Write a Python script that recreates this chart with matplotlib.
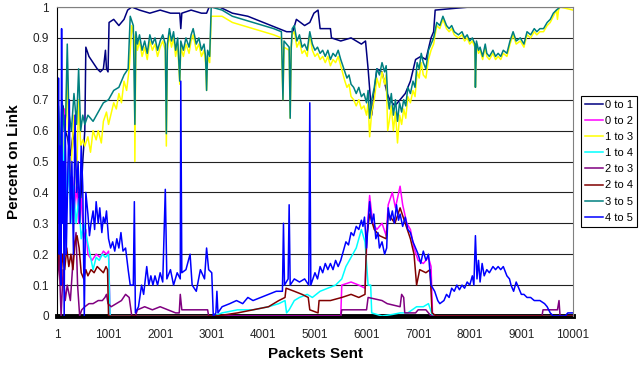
import matplotlib
matplotlib.use("Agg")
import matplotlib.pyplot as plt

plt.rcParams["font.family"] = ["Liberation Sans", "DejaVu Sans"]

# (packets sent, share of link), one list per link
link_0_1 = [(1, 0.77), (40, 0.62), (80, 0.55), (120, 0.68), (160, 0.6), (200, 0.58), (260, 0.52),
            (320, 0.6), (380, 0.45), (440, 0.3), (500, 0.5), (540, 0.6), (560, 0.87), (620, 0.84),
            (700, 0.82), (780, 0.8), (840, 0.79), (900, 0.8), (940, 0.86), (960, 0.8), (990, 0.79),
            (1010, 0.95), (1100, 0.96), (1200, 0.94), (1300, 0.96), (1370, 0.99), (1450, 1.0),
            (1600, 0.99), (1800, 0.98), (2000, 0.99), (2200, 0.98), (2380, 0.98), (2400, 0.93),
            (2420, 0.98), (2600, 0.99), (2800, 0.98), (2900, 0.98), (2950, 1.0), (3150, 1.0),
            (3400, 0.98), (3700, 0.97), (4000, 0.95), (4300, 0.93), (4450, 0.92), (4570, 0.92),
            (4640, 0.96), (4800, 0.94), (4900, 0.95), (4980, 0.98), (5060, 0.99), (5100, 0.93),
            (5300, 0.93), (5320, 0.9), (5500, 0.89), (5700, 0.9), (5900, 0.88), (5980, 0.89),
            (6030, 0.8), (6100, 0.65), (6200, 0.8), (6300, 0.79), (6400, 0.72), (6450, 0.7),
            (6550, 0.68), (6650, 0.7), (6750, 0.72), (6850, 0.76), (6950, 0.83), (7050, 0.84),
            (7150, 0.83), (7250, 0.9), (7300, 0.92), (7330, 0.99), (8000, 1.0), (9000, 1.0),
            (10001, 1.0)]

link_0_2 = [(1, 0.45), (30, 0.6), (60, 0.35), (90, 0.55), (120, 0.3), (150, 0.67), (180, 0.4),
            (220, 0.5), (260, 0.38), (300, 0.45), (340, 0.35), (380, 0.42), (420, 0.3), (470, 0.38),
            (520, 0.25), (560, 0.28), (600, 0.2), (680, 0.18), (760, 0.2), (840, 0.19), (900, 0.21),
            (960, 0.2), (1000, 0.21), (1030, 0.0), (5500, 0.0), (5520, 0.1), (5700, 0.11),
            (5850, 0.1), (5970, 0.09), (6020, 0.3), (6060, 0.39), (6120, 0.3), (6200, 0.28),
            (6300, 0.3), (6380, 0.26), (6420, 0.36), (6500, 0.4), (6560, 0.35), (6650, 0.42),
            (6700, 0.36), (6780, 0.3), (6850, 0.28), (6920, 0.22), (7000, 0.18), (7100, 0.17),
            (7200, 0.19), (7250, 0.16), (7280, 0.0), (10001, 0.0)]

link_1_3 = [(1, 0.5), (30, 0.35), (60, 0.6), (90, 0.3), (130, 0.55), (170, 0.62), (200, 0.8),
            (240, 0.45), (280, 0.5), (330, 0.65), (380, 0.42), (420, 0.7), (460, 0.55), (500, 0.57),
            (540, 0.55), (600, 0.58), (650, 0.53), (700, 0.6), (760, 0.57), (800, 0.6), (860, 0.56),
            (900, 0.63), (960, 0.66), (1000, 0.62), (1100, 0.69), (1150, 0.67), (1200, 0.72),
            (1250, 0.69), (1300, 0.76), (1350, 0.73), (1400, 0.8), (1450, 0.94), (1500, 0.9),
            (1510, 0.5), (1530, 0.9), (1560, 0.86), (1600, 0.89), (1650, 0.84), (1700, 0.87),
            (1750, 0.83), (1800, 0.89), (1850, 0.86), (1900, 0.88), (1950, 0.84), (2000, 0.87),
            (2050, 0.89), (2100, 0.86), (2120, 0.55), (2140, 0.86), (2180, 0.91), (2220, 0.87),
            (2260, 0.9), (2300, 0.84), (2340, 0.88), (2380, 0.75), (2400, 0.87), (2450, 0.84),
            (2500, 0.88), (2560, 0.85), (2600, 0.89), (2640, 0.91), (2700, 0.86), (2750, 0.88),
            (2800, 0.84), (2850, 0.86), (2880, 0.82), (2900, 0.73), (2920, 0.84), (2960, 0.82),
            (2990, 0.97), (3200, 0.97), (3400, 0.95), (3600, 0.94), (3800, 0.93), (4000, 0.92),
            (4200, 0.91), (4350, 0.9), (4380, 0.7), (4400, 0.87), (4500, 0.86), (4520, 0.64),
            (4540, 0.86), (4560, 0.91), (4600, 0.92), (4650, 0.87), (4700, 0.89), (4750, 0.85),
            (4800, 0.86), (4850, 0.84), (4900, 0.91), (4950, 0.86), (5000, 0.84), (5050, 0.85),
            (5100, 0.83), (5150, 0.84), (5200, 0.82), (5250, 0.84), (5300, 0.81), (5350, 0.83),
            (5400, 0.82), (5450, 0.84), (5500, 0.81), (5580, 0.76), (5620, 0.74), (5660, 0.75),
            (5700, 0.71), (5750, 0.7), (5800, 0.68), (5850, 0.7), (5900, 0.67), (5950, 0.68),
            (6000, 0.65), (6030, 0.69), (6060, 0.58), (6100, 0.66), (6150, 0.7), (6200, 0.77),
            (6250, 0.74), (6300, 0.79), (6350, 0.75), (6380, 0.78), (6410, 0.6), (6440, 0.63),
            (6480, 0.68), (6520, 0.6), (6560, 0.66), (6600, 0.56), (6640, 0.65), (6680, 0.62),
            (6720, 0.67), (6760, 0.64), (6800, 0.71), (6850, 0.69), (6900, 0.73), (6940, 0.71),
            (6980, 0.79), (7020, 0.77), (7060, 0.82), (7100, 0.78), (7150, 0.77), (7200, 0.83),
            (7250, 0.86), (7300, 0.88), (7360, 0.94), (7420, 0.93), (7480, 0.96), (7550, 0.93),
            (7600, 0.92), (7650, 0.93), (7700, 0.91), (7780, 0.9), (7850, 0.91), (7900, 0.89),
            (7950, 0.9), (8000, 0.88), (8050, 0.89), (8100, 0.87), (8110, 0.74), (8130, 0.88),
            (8170, 0.85), (8200, 0.86), (8250, 0.83), (8300, 0.87), (8330, 0.84), (8380, 0.83),
            (8450, 0.85), (8500, 0.83), (8550, 0.84), (8600, 0.83), (8650, 0.85), (8720, 0.84),
            (8780, 0.88), (8840, 0.91), (8900, 0.88), (8980, 0.89), (9050, 0.87), (9110, 0.91),
            (9180, 0.9), (9250, 0.92), (9300, 0.91), (9360, 0.92), (9430, 0.92), (9500, 0.94),
            (9560, 0.95), (9620, 0.97), (9680, 0.99), (9700, 0.96), (9720, 0.99), (9750, 1.0),
            (10001, 0.99)]

link_1_4 = [(1, 0.3), (30, 0.55), (60, 0.25), (90, 0.67), (120, 0.4), (150, 0.6), (190, 0.35),
            (230, 0.5), (270, 0.3), (320, 0.42), (370, 0.3), (420, 0.38), (470, 0.25), (520, 0.3),
            (580, 0.25), (640, 0.2), (700, 0.15), (760, 0.19), (820, 0.18), (880, 0.2), (940, 0.19),
            (1000, 0.2), (1030, 0.0), (3050, 0.0), (3200, 0.01), (3500, 0.02), (3800, 0.02),
            (4100, 0.03), (4300, 0.04), (4420, 0.05), (4450, 0.01), (4500, 0.02), (4600, 0.05),
            (4700, 0.06), (4850, 0.07), (4950, 0.06), (5100, 0.08), (5250, 0.09), (5400, 0.1),
            (5520, 0.12), (5600, 0.16), (5700, 0.19), (5800, 0.22), (5900, 0.28), (5970, 0.24),
            (6030, 0.1), (6080, 0.1), (6100, 0.01), (6300, 0.0), (6500, 0.005), (6650, 0.01),
            (6800, 0.01), (6970, 0.03), (7100, 0.03), (7200, 0.04), (7280, 0.0), (10001, 0.0)]

link_2_3 = [(1, 0.1), (40, 0.2), (80, 0.0), (120, 0.15), (160, 0.05), (200, 0.1), (260, 0.05),
            (320, 0.2), (370, 0.27), (400, 0.1), (440, 0.0), (480, 0.02), (540, 0.03), (620, 0.04),
            (700, 0.04), (800, 0.05), (880, 0.05), (930, 0.06), (960, 0.07), (990, 0.04),
            (1050, 0.03), (1150, 0.04), (1250, 0.05), (1330, 0.07), (1400, 0.06), (1450, 0.0),
            (1520, 0.0), (1560, 0.02), (1700, 0.03), (1850, 0.02), (2000, 0.03), (2150, 0.02),
            (2300, 0.01), (2370, 0.01), (2390, 0.07), (2420, 0.02), (2600, 0.02), (2800, 0.02),
            (2920, 0.02), (2940, 0.0), (5500, 0.0), (5520, 0.02), (6000, 0.02), (6030, 0.06),
            (6300, 0.05), (6400, 0.04), (6650, 0.03), (6680, 0.07), (6720, 0.06), (6740, 0.01),
            (6950, 0.01), (7000, 0.02), (7150, 0.02), (7250, 0.0), (9400, 0.0), (9420, 0.02),
            (9700, 0.02), (9730, 0.05), (9750, 0.0), (10001, 0.0)]

link_2_4 = [(1, 0.1), (20, 0.2), (50, 0.25), (80, 0.12), (110, 0.2), (150, 0.15), (190, 0.22),
            (230, 0.16), (270, 0.2), (310, 0.15), (350, 0.24), (390, 0.26), (430, 0.22),
            (470, 0.14), (520, 0.12), (560, 0.15), (600, 0.13), (660, 0.15), (720, 0.14),
            (780, 0.16), (840, 0.15), (900, 0.14), (950, 0.16), (980, 0.15), (1000, 0.0),
            (3050, 0.0), (3300, 0.005), (3500, 0.01), (3800, 0.02), (4100, 0.03), (4300, 0.05),
            (4420, 0.06), (4440, 0.09), (4600, 0.08), (4750, 0.07), (4870, 0.06), (4900, 0.02),
            (5060, 0.01), (5080, 0.05), (5300, 0.05), (5520, 0.06), (5700, 0.07), (5850, 0.06),
            (5970, 0.07), (6000, 0.25), (6060, 0.33), (6150, 0.28), (6250, 0.26), (6380, 0.25),
            (6420, 0.33), (6550, 0.3), (6650, 0.35), (6750, 0.3), (6850, 0.25), (6920, 0.2),
            (6970, 0.1), (7030, 0.15), (7150, 0.14), (7230, 0.15), (7270, 0.01), (7350, 0.0),
            (10001, 0.0)]

link_3_5 = [(1, 0.55), (30, 0.68), (60, 0.5), (100, 0.7), (140, 0.6), (170, 0.65), (200, 0.88),
            (230, 0.66), (280, 0.6), (330, 0.72), (380, 0.62), (420, 0.8), (460, 0.6), (500, 0.65),
            (540, 0.62), (600, 0.65), (700, 0.63), (800, 0.66), (900, 0.69), (1000, 0.7),
            (1100, 0.73), (1200, 0.74), (1300, 0.78), (1380, 0.8), (1420, 0.97), (1480, 0.94),
            (1510, 0.62), (1530, 0.92), (1560, 0.88), (1600, 0.91), (1650, 0.86), (1700, 0.89),
            (1750, 0.85), (1800, 0.91), (1850, 0.88), (1900, 0.9), (1950, 0.86), (2000, 0.89),
            (2050, 0.91), (2100, 0.88), (2120, 0.59), (2140, 0.88), (2180, 0.93), (2220, 0.89),
            (2260, 0.92), (2300, 0.86), (2340, 0.9), (2380, 0.76), (2400, 0.89), (2450, 0.86),
            (2500, 0.9), (2560, 0.87), (2600, 0.91), (2640, 0.93), (2700, 0.88), (2750, 0.9),
            (2800, 0.86), (2850, 0.88), (2880, 0.84), (2900, 0.73), (2920, 0.86), (2960, 0.84),
            (2990, 1.0), (3200, 0.99), (3400, 0.97), (3600, 0.96), (3800, 0.95), (4000, 0.94),
            (4200, 0.93), (4350, 0.92), (4380, 0.7), (4400, 0.89), (4500, 0.87), (4520, 0.64),
            (4540, 0.87), (4560, 0.93), (4600, 0.94), (4650, 0.89), (4700, 0.91), (4750, 0.87),
            (4800, 0.88), (4850, 0.86), (4900, 0.92), (4950, 0.88), (5000, 0.86), (5050, 0.87),
            (5100, 0.85), (5150, 0.86), (5200, 0.84), (5250, 0.86), (5300, 0.83), (5350, 0.85),
            (5400, 0.84), (5450, 0.86), (5500, 0.83), (5580, 0.79), (5620, 0.77), (5660, 0.78),
            (5700, 0.75), (5750, 0.74), (5800, 0.72), (5850, 0.74), (5900, 0.71), (5950, 0.72),
            (6000, 0.69), (6030, 0.73), (6060, 0.64), (6100, 0.7), (6150, 0.74), (6200, 0.8),
            (6250, 0.78), (6300, 0.82), (6350, 0.79), (6380, 0.81), (6410, 0.71), (6440, 0.67),
            (6480, 0.72), (6520, 0.65), (6560, 0.7), (6600, 0.63), (6640, 0.69), (6680, 0.66),
            (6720, 0.7), (6760, 0.68), (6800, 0.74), (6850, 0.72), (6900, 0.76), (6940, 0.74),
            (6980, 0.82), (7020, 0.8), (7060, 0.85), (7100, 0.82), (7150, 0.8), (7200, 0.86),
            (7250, 0.88), (7300, 0.9), (7360, 0.95), (7420, 0.94), (7480, 0.97), (7550, 0.94),
            (7600, 0.93), (7650, 0.94), (7700, 0.92), (7780, 0.91), (7850, 0.92), (7900, 0.9),
            (7950, 0.91), (8000, 0.89), (8050, 0.9), (8100, 0.88), (8110, 0.74), (8130, 0.89),
            (8170, 0.86), (8200, 0.87), (8250, 0.84), (8300, 0.88), (8330, 0.85), (8380, 0.84),
            (8450, 0.86), (8500, 0.84), (8550, 0.85), (8600, 0.84), (8650, 0.86), (8720, 0.85),
            (8780, 0.89), (8840, 0.92), (8900, 0.89), (8980, 0.9), (9050, 0.88), (9110, 0.92),
            (9180, 0.91), (9250, 0.93), (9300, 0.92), (9360, 0.93), (9430, 0.93), (9500, 0.95),
            (9560, 0.96), (9620, 0.98), (9680, 0.99), (9750, 1.0), (10001, 1.0)]

link_4_5 = [(1, 0.6), (15, 0.3), (30, 0.77), (45, 0.2), (60, 0.55), (75, 0.1), (90, 0.93),
            (105, 0.3), (125, 0.5), (140, 0.0), (160, 0.65), (180, 0.2), (210, 0.45), (240, 0.7),
            (260, 0.3), (290, 0.5), (320, 0.2), (350, 0.65), (380, 0.4), (410, 0.5), (440, 0.3),
            (470, 0.55), (500, 0.42), (530, 0.0), (560, 0.4), (600, 0.33), (630, 0.26), (660, 0.3),
            (700, 0.34), (730, 0.28), (760, 0.37), (800, 0.3), (830, 0.35), (870, 0.27), (900, 0.32),
            (930, 0.3), (960, 0.34), (1000, 0.25), (1040, 0.22), (1080, 0.24), (1120, 0.21),
            (1160, 0.25), (1200, 0.22), (1240, 0.27), (1280, 0.21), (1330, 0.22), (1380, 0.15),
            (1420, 0.1), (1480, 0.1), (1500, 0.37), (1520, 0.01), (1580, 0.03), (1640, 0.1),
            (1680, 0.07), (1740, 0.16), (1780, 0.1), (1820, 0.13), (1860, 0.1), (1900, 0.13),
            (1950, 0.1), (2000, 0.14), (2050, 0.11), (2100, 0.41), (2130, 0.12), (2200, 0.15),
            (2260, 0.1), (2330, 0.14), (2390, 0.12), (2400, 0.76), (2420, 0.14), (2500, 0.15),
            (2580, 0.2), (2620, 0.1), (2700, 0.08), (2780, 0.15), (2860, 0.12), (2900, 0.22),
            (2940, 0.15), (3000, 0.14), (3030, 0.0), (3080, 0.01), (3100, 0.08), (3120, 0.01),
            (3200, 0.03), (3350, 0.04), (3480, 0.05), (3600, 0.04), (3700, 0.06), (3800, 0.05),
            (3950, 0.06), (4100, 0.07), (4250, 0.08), (4370, 0.08), (4390, 0.3), (4410, 0.1),
            (4480, 0.12), (4500, 0.36), (4520, 0.1), (4600, 0.12), (4700, 0.11), (4800, 0.12),
            (4880, 0.1), (4900, 0.69), (4920, 0.1), (5000, 0.14), (5050, 0.12), (5100, 0.16),
            (5150, 0.14), (5200, 0.17), (5250, 0.15), (5300, 0.17), (5350, 0.15), (5400, 0.18),
            (5450, 0.16), (5500, 0.18), (5550, 0.21), (5600, 0.24), (5650, 0.23), (5700, 0.27),
            (5750, 0.26), (5800, 0.29), (5850, 0.28), (5900, 0.31), (5930, 0.29), (5960, 0.32),
            (6000, 0.22), (6030, 0.3), (6060, 0.37), (6100, 0.3), (6140, 0.33), (6180, 0.25),
            (6220, 0.27), (6250, 0.22), (6300, 0.24), (6350, 0.2), (6390, 0.22), (6420, 0.35),
            (6460, 0.31), (6500, 0.34), (6540, 0.3), (6580, 0.36), (6620, 0.31), (6650, 0.33),
            (6700, 0.29), (6750, 0.32), (6800, 0.28), (6850, 0.27), (6900, 0.24), (6950, 0.22),
            (7000, 0.2), (7050, 0.17), (7100, 0.21), (7150, 0.18), (7200, 0.2), (7250, 0.1),
            (7320, 0.08), (7380, 0.05), (7420, 0.04), (7500, 0.05), (7550, 0.07), (7600, 0.06),
            (7650, 0.09), (7700, 0.08), (7750, 0.1), (7800, 0.085), (7850, 0.1), (7900, 0.09),
            (7950, 0.11), (8000, 0.1), (8050, 0.13), (8080, 0.1), (8110, 0.26), (8140, 0.12),
            (8170, 0.18), (8200, 0.11), (8240, 0.17), (8280, 0.13), (8330, 0.15), (8380, 0.14),
            (8450, 0.16), (8500, 0.15), (8550, 0.16), (8600, 0.15), (8650, 0.16), (8720, 0.13),
            (8770, 0.12), (8800, 0.1), (8850, 0.08), (8900, 0.11), (8950, 0.09), (9000, 0.07),
            (9050, 0.07), (9110, 0.06), (9180, 0.06), (9250, 0.05), (9360, 0.05), (9450, 0.04),
            (9500, 0.03), (9560, 0.01), (9620, 0.0), (9850, 0.0), (9900, 0.01), (10001, 0.01)]

series_names = ["0 to 1", "0 to 2", "1 to 3", "1 to 4", "2 to 3", "2 to 4", "3 to 5", "4 to 5"]
series_data = [link_0_1, link_0_2, link_1_3, link_1_4, link_2_3, link_2_4, link_3_5, link_4_5]
series_colors = ["#000080", "#FF00FF", "#FFFF00", "#00FFFF", "#800080", "#800000", "#008080", "#0000FF"]

x_ticks = list(range(1, 10002, 1000))
y_ticks = [i / 10 for i in range(11)]

fig = plt.figure(figsize=(6.43, 3.69), dpi=100)
ax = fig.add_axes([57 / 643, 53 / 369, 516 / 643, 309 / 369])

# thick black band along zero, like the excel axis
ax.axhline(0, color="black", lw=3.5, zorder=1.5, clip_on=False)

handles = []
for name, pts, col in zip(series_names, series_data, series_colors):
    xs = [p[0] for p in pts]
    ys = [p[1] for p in pts]
    h, = ax.plot(xs, ys, color=col, lw=1.1, label=name, zorder=2)
    handles.append(h)

ax.set_xlim(1, 10001)
ax.set_ylim(0, 1)
ax.set_xticks(x_ticks)
ax.set_xticklabels([str(t) for t in x_ticks], fontsize=8.5)
ax.set_yticks(y_ticks)
ax.set_yticklabels(["0" if t == 0 else ("1" if t == 1 else f"{t:.1f}") for t in y_ticks], fontsize=8.5)
ax.tick_params(axis="both", length=0, colors="#222222")
ax.tick_params(axis="x", pad=9)
ax.tick_params(axis="y", pad=6)

ax.yaxis.grid(True, color="#222222", lw=0.8)
ax.set_axisbelow(True)
ax.spines["left"].set_color("black")
ax.spines["bottom"].set_visible(False)
ax.spines["top"].set_color("#808080")
ax.spines["right"].set_color("#808080")

ax.set_xlabel("Packets Sent", fontsize=11, fontweight="bold", labelpad=5)
ax.set_ylabel("Percent on Link", fontsize=11, fontweight="bold", labelpad=8)

leg = fig.legend(handles, series_names, loc="upper left",
                 bbox_to_anchor=(581 / 643, 1 - 96 / 369), fontsize=8,
                 frameon=True, fancybox=False, framealpha=1, edgecolor="black",
                 handlelength=1.6, handletextpad=0.2, borderpad=0.35,
                 labelspacing=0.55, borderaxespad=0)
leg.get_frame().set_linewidth(0.8)

fig.savefig("out.png", dpi=100)
